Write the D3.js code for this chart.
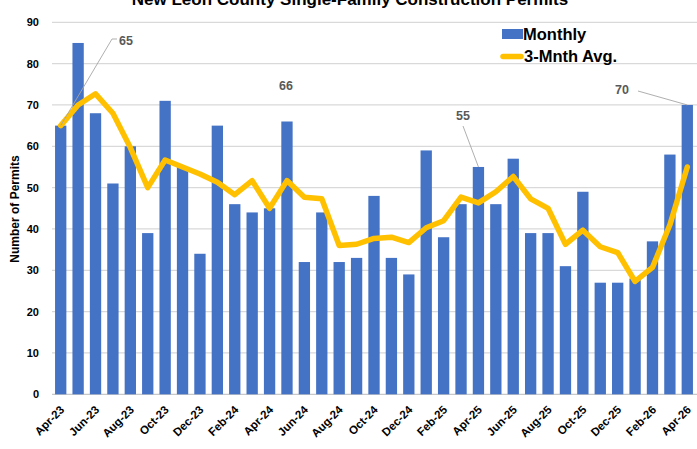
<html>
<head>
<script src="https://d3js.org/d3.v7.min.js"></script>
<style>
  html { font-family: "Liberation Sans", Arial, sans-serif; }
  body { margin: 0; background: #fff; }
</style>
</head>
<body>
<div id="graph"></div>
<script>
// months shown on the axis
var months = ["Apr-23","May-23","Jun-23","Jul-23","Aug-23","Sep-23","Oct-23","Nov-23","Dec-23",
  "Jan-24","Feb-24","Mar-24","Apr-24","May-24","Jun-24","Jul-24","Aug-24","Sep-24","Oct-24","Nov-24","Dec-24",
  "Jan-25","Feb-25","Mar-25","Apr-25","May-25","Jun-25","Jul-25","Aug-25","Sep-25","Oct-25","Nov-25","Dec-25",
  "Jan-26","Feb-26","Mar-26","Apr-26"];

var monthly = [65,85,68,51,60,39,71,55,34,
  65,46,44,45,66,32,44,32,33,48,33,29,
  59,38,46,55,46,57,39,39,31,49,27,27,
  28,37,58,70];

var avg3 = [65,70,72.7,68,59.7,50,56.7,55,53.3,
  51.3,48.3,51.7,45,51.7,47.7,47.3,36,36.3,37.7,38,36.7,
  40.3,42,47.7,46.3,49,52.7,47.3,45,36.3,39.7,35.7,34.3,
  27.3,30.7,41,55];

var yTicks = [0,10,20,30,40,50,60,70,80,90];

// labelled bars: index and label position
var callouts = [
  {i: 0, lx: 126, ly: 41, leader: true},
  {i: 13, lx: 286, ly: 86, leader: false},
  {i: 24, lx: 463, ly: 116, leader: true},
  {i: 36, lx: 622, ly: 90, leader: true}
];

var W = 697, H = 449;
var svg = d3.select("#graph").append("svg")
  .attr("width", W).attr("height", H);

var x = d3.scaleBand()
  .domain(months)
  .range([52, 696])
  .paddingInner(0.35)
  .paddingOuter(0.175);

var y = d3.scaleLinear()
  .domain([0, 90])
  .range([394.3, 22.3]);

// gridlines
svg.append("g").selectAll("line")
  .data(yTicks)
  .enter().append("line")
    .attr("x1", 52).attr("x2", W)
    .attr("y1", function(d){ return y(d) }).attr("y2", function(d){ return y(d) })
    .attr("stroke", function(d){ return d === 0 ? "#c8c8c8" : "#d9d9d9" })
    .attr("stroke-width", 1.2);

// y axis labels
var yAxis = d3.axisLeft(y).tickValues(yTicks).tickSize(0).tickPadding(0);
svg.append("g")
  .attr("transform", "translate(39,0)")
  .call(yAxis)
  .call(function(g){
    g.select(".domain").remove();
    g.selectAll("text")
      .attr("font-family", "Liberation Sans, Arial, sans-serif")
      .attr("font-size", 11).attr("font-weight", "bold").attr("fill", "#000");
  });

svg.append("text")
  .attr("transform", "translate(19,209) rotate(-90)")
  .attr("text-anchor", "middle")
  .attr("font-size", 12).attr("font-weight", "bold")
  .text("Number of Permits");

// bars
svg.selectAll(".bar")
  .data(monthly)
  .enter().append("rect")
    .attr("class", "bar")
    .attr("x", function(d, i){ return x(months[i]) })
    .attr("y", function(d){ return y(d) })
    .attr("width", x.bandwidth())
    .attr("height", function(d){ return y(0) - y(d) })
    .attr("fill", "#4472c4");

// x axis, every other month
var xAxis = d3.axisBottom(x)
  .tickValues(months.filter(function(d, i){ return i % 2 === 0 }))
  .tickSize(0);
svg.append("g")
  .attr("transform", "translate(0,394)")
  .call(xAxis)
  .call(function(g){
    g.select(".domain").remove();
    g.selectAll("text")
      .attr("font-family", "Liberation Sans, Arial, sans-serif")
      .attr("font-size", 11.5).attr("font-weight", "bold").attr("fill", "#000")
      .attr("text-anchor", "end")
      .attr("x", 0).attr("y", 0).attr("dy", "0.3em")
      .attr("transform", "translate(2,14) rotate(-45)");
  });

// 3 month average line
var line = d3.line()
  .x(function(d, i){ return x(months[i]) + x.bandwidth() / 2 })
  .y(function(d){ return y(d) });
svg.append("path")
  .datum(avg3)
  .attr("d", line)
  .attr("fill", "none")
  .attr("stroke", "#ffc000")
  .attr("stroke-width", 5.5)
  .attr("stroke-linejoin", "round")
  .attr("stroke-linecap", "round");

// callouts
callouts.forEach(function(c){
  var bx = x(months[c.i]) + x.bandwidth() / 2, by = y(monthly[c.i]);
  if (c.leader) {
    var ex = c.i === 36 ? c.lx + 16 : (c.i === 0 ? c.lx - 14 : c.lx);
    var ey = c.i === 36 ? c.ly + 1 : (c.i === 0 ? c.ly - 2 : c.ly + 10);
    var pts = [[bx, by], [ex, ey]];
    if (c.i === 0) pts.push([ex + 5, ey]);
    svg.append("path")
      .attr("d", d3.line()(pts))
      .attr("fill", "none")
      .attr("stroke", "#a6a6a6")
      .attr("stroke-width", 0.9);
  }
  svg.append("text")
    .attr("x", c.lx).attr("y", c.ly)
    .attr("dy", "0.35em")
    .attr("text-anchor", "middle")
    .attr("font-size", 12.5).attr("font-weight", "bold")
    .attr("fill", "#595959")
    .text(monthly[c.i]);
});

// legend
var lg = svg.append("g");
lg.append("rect").attr("x", 502).attr("y", 29).attr("width", 21).attr("height", 10).attr("fill", "#4472c4");
lg.append("text").attr("x", 523).attr("y", 34).attr("dy", "0.35em")
  .attr("font-size", 16.5).attr("font-weight", "bold").text("Monthly");
lg.append("line").attr("x1", 503).attr("x2", 521).attr("y1", 56.5).attr("y2", 56.5)
  .attr("stroke", "#ffc000").attr("stroke-width", 5.5).attr("stroke-linecap", "round");
lg.append("text").attr("x", 524).attr("y", 56).attr("dy", "0.35em")
  .attr("font-size", 16.5).attr("font-weight", "bold").text("3-Mnth Avg.");

// title (its top is cut off in the original too)
svg.append("text")
  .attr("x", 350).attr("y", 5)
  .attr("text-anchor", "middle")
  .attr("font-size", 17).attr("font-weight", "bold")
  .text("New Leon County Single-Family Construction Permits");
</script>
</body>
</html>
